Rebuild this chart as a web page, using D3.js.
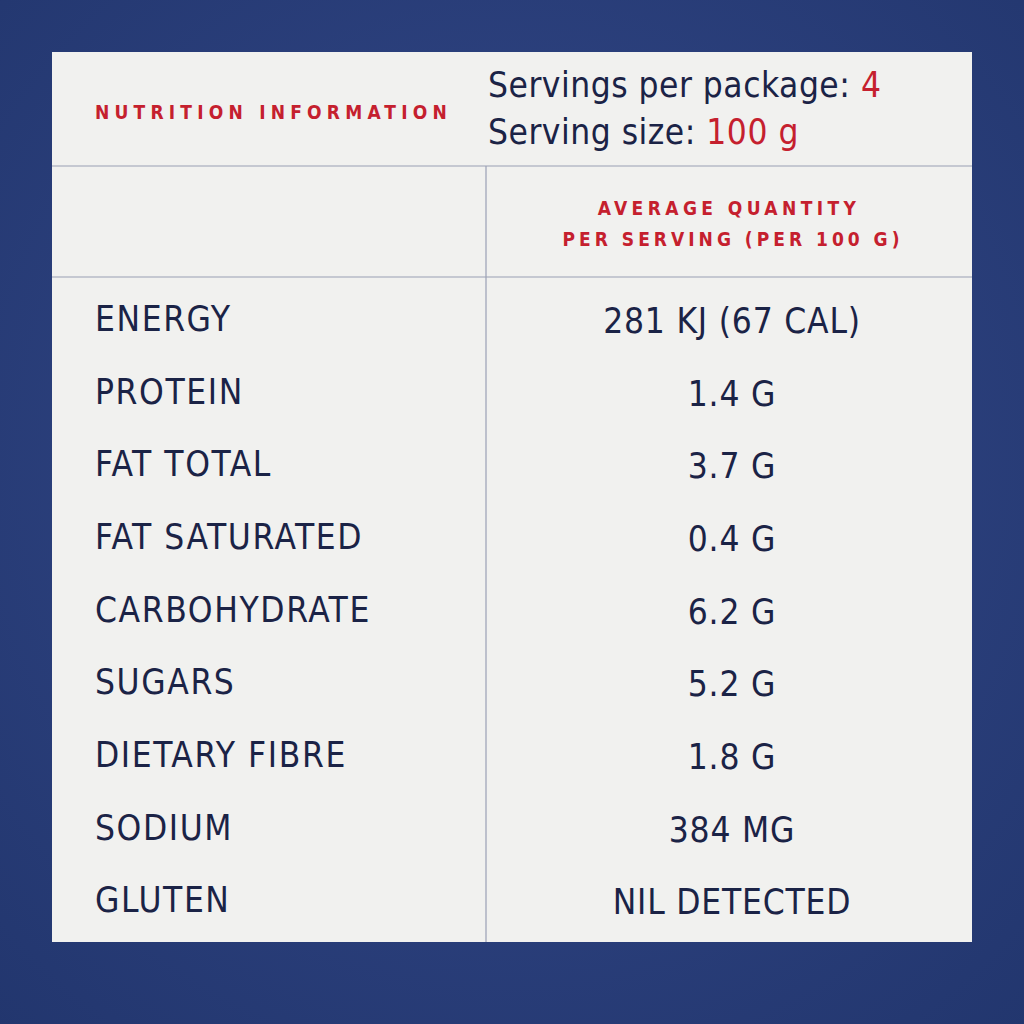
<!DOCTYPE html>
<html><head><meta charset="utf-8">
<script src="https://cdn.jsdelivr.net/npm/d3@7"></script>
<style>body{margin:0;background:#2b3f7c;}svg{display:block}</style>
</head><body>
<script>
const nutrients = ["ENERGY","PROTEIN","FAT TOTAL","FAT SATURATED","CARBOHYDRATE","SUGARS","DIETARY FIBRE","SODIUM","GLUTEN"];
const quantities = ["281 KJ (67 CAL)","1.4 G","3.7 G","0.4 G","6.2 G","5.2 G","1.8 G","384 MG","NIL DETECTED"];
const servingsPerPackage = "4";
const servingSize = "100 g";

const W=1024,H=1024;
const svg=d3.select("body").append("svg").attr("width",W).attr("height",H);
const defs=svg.append("defs");
const g=defs.append("radialGradient").attr("id","bg").attr("cx","50%").attr("cy","45%").attr("r","75%");
g.append("stop").attr("offset","0%").attr("stop-color","#34498a");
g.append("stop").attr("offset","100%").attr("stop-color","#22366e");
svg.append("rect").attr("width",W).attr("height",H).attr("fill","url(#bg)");

const L=52,R=972,T=52,B=942,mid=486,h1=166,h2=277;
const navy="#1b2346", red="#c5202e", line="#9aa0b4";
const font="'DejaVu Sans Condensed','DejaVu Sans',sans-serif";
svg.append("rect").attr("x",L).attr("y",T).attr("width",R-L).attr("height",B-T).attr("fill","#f1f1ef");
svg.append("line").attr("x1",L).attr("x2",R).attr("y1",h1).attr("y2",h1).attr("stroke",line).attr("stroke-width",1.2);
svg.append("line").attr("x1",L).attr("x2",R).attr("y1",h2).attr("y2",h2).attr("stroke",line).attr("stroke-width",1.2);
svg.append("line").attr("x1",mid).attr("x2",mid).attr("y1",h1).attr("y2",B).attr("stroke",line).attr("stroke-width",1.2);

svg.append("text").attr("x",95).attr("y",119).attr("fill",red).attr("font-family",font).attr("font-weight","bold")
  .attr("font-size",19).attr("letter-spacing",5.2).text("NUTRITION INFORMATION");
const t1=svg.append("text").attr("x",488).attr("y",97).attr("fill",navy).attr("font-family",font).attr("font-size",35).attr("letter-spacing",0.5);
t1.append("tspan").text("Servings per package: ");t1.append("tspan").attr("fill",red).text(servingsPerPackage);
const t2=svg.append("text").attr("x",488).attr("y",144).attr("fill",navy).attr("font-family",font).attr("font-size",35).attr("letter-spacing",0.5);
t2.append("tspan").text("Serving size: ");t2.append("tspan").attr("fill",red).text(servingSize);

svg.append("text").attr("x",729).attr("y",215).attr("text-anchor","middle").attr("fill",red).attr("font-family",font)
  .attr("font-weight","bold").attr("font-size",19).attr("letter-spacing",4.4).text("AVERAGE QUANTITY");
svg.append("text").attr("x",733).attr("y",246).attr("text-anchor","middle").attr("fill",red).attr("font-family",font)
  .attr("font-weight","bold").attr("font-size",19).attr("letter-spacing",4.0).text("PER SERVING (PER 100 G)");

const y=d3.scaleBand().domain(nutrients).range([282,936]);
const rows=svg.selectAll("g.row").data(nutrients).join("g").attr("class","row")
  .attr("transform",d=>`translate(0,${y(d)+y.bandwidth()/2})`);
rows.append("text").attr("x",95).attr("dy","0.36em").attr("fill",navy).attr("font-family",font).attr("font-size",35)
  .attr("letter-spacing",1.6).text(d=>d);
rows.append("text").attr("x",732).attr("dy","0.42em").attr("text-anchor","middle").attr("fill",navy).attr("font-family",font)
  .attr("font-size",35).attr("letter-spacing",0.8).text((d,i)=>quantities[i]);
</script>
</body></html>
